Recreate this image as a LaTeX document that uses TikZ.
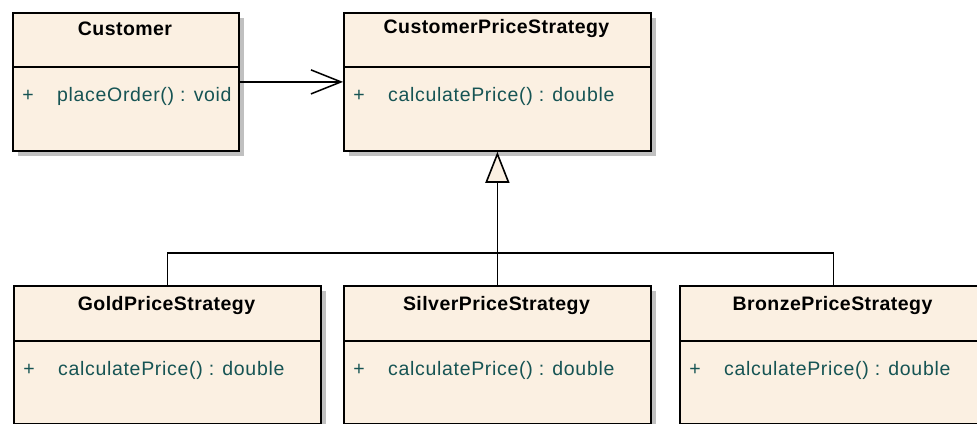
\documentclass[tikz,border=0pt]{standalone}
\usepackage{fontspec}
\setmainfont{Liberation Sans}
\newfontfamily\umlfont[LetterSpace=3.5]{Liberation Sans}
\newfontfamily\umlbold[LetterSpace=2.3]{Liberation Sans}
\usepackage{tikz}
\usetikzlibrary{arrows.meta,shadows,calc}

\definecolor{classfill}{RGB}{251,240,226}
\definecolor{optext}{RGB}{22,84,84}
\definecolor{shadowgrey}{RGB}{192,192,192}

\tikzset{
  classbox/.style={draw=black, line width=1.8pt, fill=classfill, anchor=north west,
    inner sep=0pt, minimum height=138pt,
    drop shadow={shadow xshift=5pt, shadow yshift=-5pt, fill=shadowgrey, opacity=1}},
  classname/.style={inner sep=0pt, font=\umlbold\fontsize{19.5}{23}\selectfont\bfseries},
  visib/.style={inner sep=0pt, text=optext, font=\umlfont\fontsize{19.5}{23}\selectfont},
  opname/.style={inner sep=0pt, anchor=west, text=optext, font=\umlfont\fontsize{19.5}{23}\selectfont},
  divider/.style={line width=1.3pt},
  assoc/.style={line width=1.3pt, -{Straight Barb[length=30pt, width=24pt, line width=1.5pt]}},
  realize/.style={line width=1.8pt, -{Triangle[open, fill=classfill, length=31pt, width=24pt, line width=1.6pt]}},
}

\begin{document}
\begin{tikzpicture}[x=1pt, y=-1pt]
\useasboundingbox (0,0) rectangle (977,423);
\clip (0,0) rectangle (977,423);

% client class
\node[classbox, minimum width=226pt] (cust) at (12,12) {};
\node[classname] (custName) at (125,29) {Customer};
\draw[divider] ($(cust.north west)+(0,55)$) -- ($(cust.north east)+(0,55)$);
\node[visib] (custVis) at (28,96) {+};
\node[opname] (custOp) at (57,96) {placeOrder() : void};

% strategy interface
\node[classbox, minimum width=307pt] (cps) at (343,12) {};
\node[classname] (cpsName) at (496.5,29) {CustomerPriceStrategy};
\draw[divider] ($(cps.north west)+(0,55)$) -- ($(cps.north east)+(0,55)$);
\node[visib] (cpsVis) at (359,96) {+};
\node[opname] (cpsOp) at (388,96) {calculatePrice() : double};

% concrete strategies
\node[classbox, minimum width=307pt] (gold) at (13,285) {};
\node[classname] (goldName) at (166.5,305) {GoldPriceStrategy};
\draw[divider] ($(gold.north west)+(0,56)$) -- ($(gold.north east)+(0,56)$);
\node[visib] (goldVis) at (29,370) {+};
\node[opname] (goldOp) at (58,370) {calculatePrice() : double};

\node[classbox, minimum width=307pt] (silver) at (343,285) {};
\node[classname] (silverName) at (496.5,305) {SilverPriceStrategy};
\draw[divider] ($(silver.north west)+(0,56)$) -- ($(silver.north east)+(0,56)$);
\node[visib] (silverVis) at (359,370) {+};
\node[opname] (silverOp) at (388,370) {calculatePrice() : double};

\node[classbox, minimum width=307pt] (bronze) at (679,285) {};
\node[classname] (bronzeName) at (832.5,305) {BronzePriceStrategy};
\draw[divider] ($(bronze.north west)+(0,56)$) -- ($(bronze.north east)+(0,56)$);
\node[visib] (bronzeVis) at (695,370) {+};
\node[opname] (bronzeOp) at (724,370) {calculatePrice() : double};

% connectors
\draw[assoc] (cust.east) -- (cps.west);
\coordinate (bus) at (496.5,253);
\draw[line width=1.8pt] (gold.north) |- (bus) -| (bronze.north);
\draw[realize] (silver.north) -- (cps.south);

\end{tikzpicture}
\end{document}
